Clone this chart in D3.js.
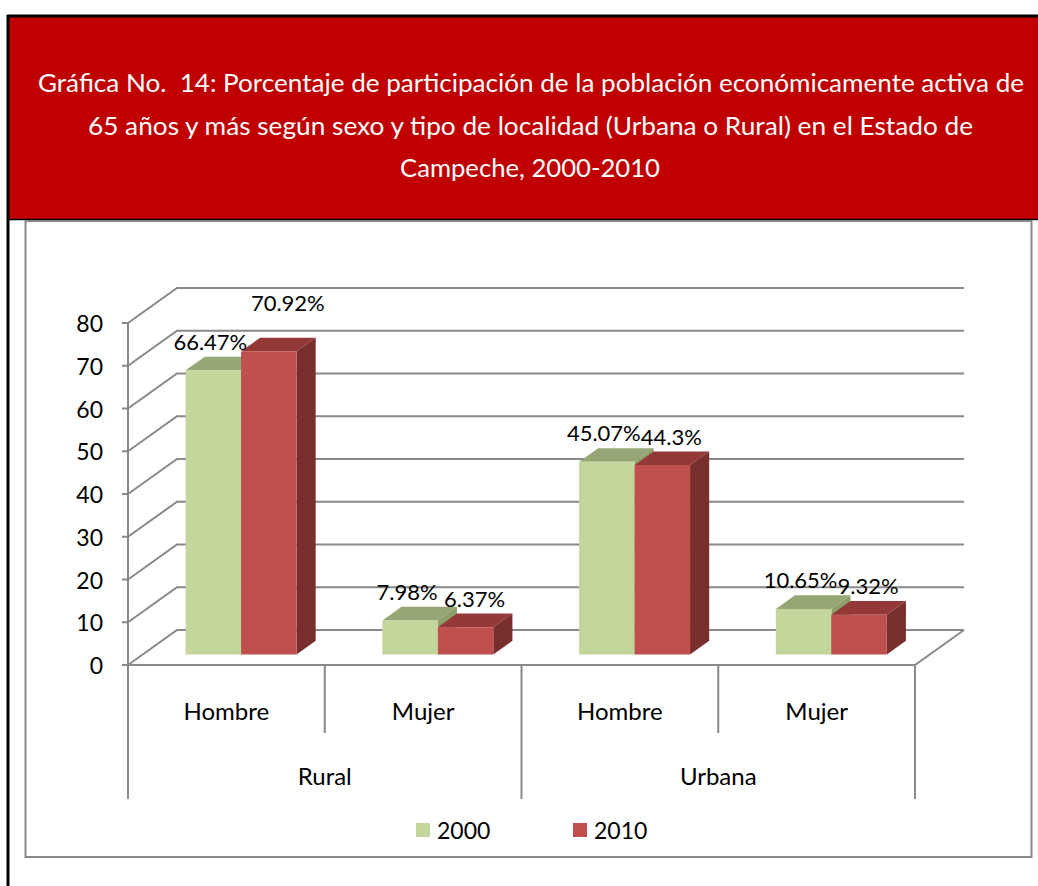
<!DOCTYPE html>
<html><head><meta charset="utf-8">
<script src="https://cdn.jsdelivr.net/npm/d3@7/dist/d3.min.js"></script>
<style>html,body{margin:0;padding:0;background:#fff;}svg{display:block;}text{white-space:pre;}</style>
</head><body>
<svg id="chart" width="1038" height="886"></svg>
<script>
// ---------- DATA ----------
const titleLines = [
  "Gráfica No.  14: Porcentaje de participación de la población económicamente activa de",
  "65 años y más según sexo y tipo de localidad (Urbana o Rural) en el Estado de",
  "Campeche, 2000-2010"
];
const localidades = ["Rural", "Urbana"];
const sexos = ["Hombre", "Mujer"];
const categories = ["Rural|Hombre", "Rural|Mujer", "Urbana|Hombre", "Urbana|Mujer"];
const seriesNames = ["2000", "2010"];
const values2000 = [66.47, 7.98, 45.07, 10.65];
const values2010 = [70.92, 6.37, 44.3, 9.32];
const labels2000 = ["66.47%", "7.98%", "45.07%", "10.65%"];
const labels2010 = ["70.92%", "6.37%", "44.3%", "9.32%"];
const yTicks = [0, 10, 20, 30, 40, 50, 60, 70, 80];

// ---------- LAYOUT ----------
const svg = d3.select("#chart");
const grey = "#898989";
const font = "Lato, 'Open Sans', sans-serif";

// header
svg.append("rect").attr("x", 8).attr("y", 16).attr("width", 1040).attr("height", 204).attr("fill", "#C00000");
svg.append("line").attr("x1", 7).attr("x2", 1038).attr("y1", 16).attr("y2", 16).attr("stroke", "#000").attr("stroke-width", 3);
svg.append("line").attr("x1", 7).attr("x2", 1038).attr("y1", 219.5).attr("y2", 219.5).attr("stroke", "#000").attr("stroke-width", 1.5);
svg.append("line").attr("x1", 8).attr("x2", 8).attr("y1", 15).attr("y2", 886).attr("stroke", "#000").attr("stroke-width", 3);

const titleCfg = [{y: 82, x1: 38, x2: 1024}, {y: 125, x1: 88, x2: 973}, {y: 167, x1: 400, x2: 660}];
titleLines.forEach((t, i) => {
  const c = titleCfg[i];
  svg.append("text").attr("x", (c.x1 + c.x2) / 2).attr("y", c.y)
    .attr("text-anchor", "middle").attr("dominant-baseline", "central")
    .attr("font-family", font).attr("font-size", 25).attr("fill", "#fff")
    .attr("xml:space", "preserve")
    .attr("textLength", c.x2 - c.x1).attr("lengthAdjust", "spacingAndGlyphs")
    .text(t);
});

// chart box
svg.append("rect").attr("x", 25.5).attr("y", 221).attr("width", 1006).attr("height", 636)
  .attr("fill", "none").attr("stroke", grey).attr("stroke-width", 2);

// scales
const x = d3.scaleBand().domain(categories).range([128, 915]).padding(0);
const y = d3.scaleLinear().domain([0, 80]).range([665, 323]);
const DX = 49, DY = -35;
const proj = (px, v, z) => [px + z * DX, y(v) + z * DY];

const g = svg.append("g");

// gridlines (left wall + back wall)
yTicks.forEach(t => {
  const a = proj(128, t, 0), b = proj(128, t, 1), c = proj(915, t, 1);
  g.append("polyline").attr("points", [a, b, c].map(p => p.join(",")).join(" "))
    .attr("fill", "none").attr("stroke", grey).attr("stroke-width", 2);
});
// floor front and right edge
{
  const a = proj(128, 0, 0), b = proj(915, 0, 0), c = proj(915, 0, 1);
  g.append("polyline").attr("points", [a, b, c].map(p => p.join(",")).join(" "))
    .attr("fill", "none").attr("stroke", grey).attr("stroke-width", 2);
}
// y axis
g.append("line").attr("x1", 128).attr("x2", 128).attr("y1", y(80)).attr("y2", y(0)).attr("stroke", grey).attr("stroke-width", 2);
yTicks.forEach(t => {
  g.append("line").attr("x1", 122).attr("x2", 128).attr("y1", y(t)).attr("y2", y(t)).attr("stroke", grey).attr("stroke-width", 2);
  g.append("text").attr("x", 103).attr("y", y(t)).attr("text-anchor", "end").attr("dominant-baseline", "central")
    .attr("font-family", font).attr("font-size", 23).attr("fill", "#000").text(t);
});

// category axis (multi-level)
const bw = x.bandwidth();
categories.forEach((c, i) => {
  const x0 = x(c);
  const major = (i % 2 === 0);
  g.append("line").attr("x1", x0).attr("x2", x0).attr("y1", y(0)).attr("y2", major ? 799 : 733)
    .attr("stroke", grey).attr("stroke-width", 2);
  g.append("text").attr("x", x0 + bw / 2).attr("y", 710).attr("text-anchor", "middle").attr("dominant-baseline", "central")
    .attr("font-family", font).attr("font-size", 24).attr("fill", "#000").text(c.split("|")[1]);
});
g.append("line").attr("x1", 915).attr("x2", 915).attr("y1", y(0)).attr("y2", 799).attr("stroke", grey).attr("stroke-width", 2);
localidades.forEach((l, i) => {
  const xs = x(l + "|" + sexos[0]);
  g.append("text").attr("x", xs + bw).attr("y", 775).attr("text-anchor", "middle").attr("dominant-baseline", "central")
    .attr("font-family", font).attr("font-size", 24).attr("fill", "#000").text(l);
});

// bars
const colors = [
  {front: "#C3D69B", top: "#96A674", side: "#8D9E68"},
  {front: "#C0504D", top: "#943937", side: "#782E2C"}
];
const seriesVals = [values2000, values2010];
const seriesLabels = [labels2000, labels2010];
const barW = bw * 0.282;
const gap = (bw - 2 * barW) / 2;
const z0 = 0.3, z1 = 0.69;
const labelDx = [-3, 9];
const labelNudge = {"0-1": [10, -20]};

const poly = pts => pts.map(p => p.join(",")).join(" ");
categories.forEach((c, i) => {
  seriesNames.forEach((s, si) => {
    const v = seriesVals[si][i];
    const xa = x(c) + gap + si * barW, xb = xa + barW;
    const col = colors[si];
    g.append("polygon").attr("points", poly([proj(xa, v, z0), proj(xb, v, z0), proj(xb, v, z1), proj(xa, v, z1)])).attr("fill", col.top);
    g.append("polygon").attr("points", poly([proj(xb, 0, z0), proj(xb, v, z0), proj(xb, v, z1), proj(xb, 0, z1)])).attr("fill", col.side);
    g.append("polygon").attr("points", poly([proj(xa, 0, z0), proj(xb, 0, z0), proj(xb, v, z0), proj(xa, v, z0)])).attr("fill", col.front);
  });
});
// labels
categories.forEach((c, i) => {
  seriesNames.forEach((s, si) => {
    const v = seriesVals[si][i];
    const xa = x(c) + gap + si * barW;
    const top = proj(xa + barW / 2, v, z0);
    const n = labelNudge[i + "-" + si] || [0, 0];
    g.append("text").attr("x", top[0] + labelDx[si] + n[0]).attr("y", top[1] - 29 + n[1])
      .attr("text-anchor", "middle").attr("dominant-baseline", "central")
      .attr("font-family", font).attr("font-size", 22).attr("fill", "#000")
      .text(seriesLabels[si][i]);
  });
});

// legend
const legX = [416, 573];
seriesNames.forEach((s, si) => {
  svg.append("rect").attr("x", legX[si]).attr("y", 823).attr("width", 14).attr("height", 14).attr("fill", colors[si].front);
  svg.append("text").attr("x", legX[si] + 21).attr("y", 830).attr("dominant-baseline", "central")
    .attr("font-family", font).attr("font-size", 23).attr("fill", "#000").text(s);
});
</script>
</body></html>
